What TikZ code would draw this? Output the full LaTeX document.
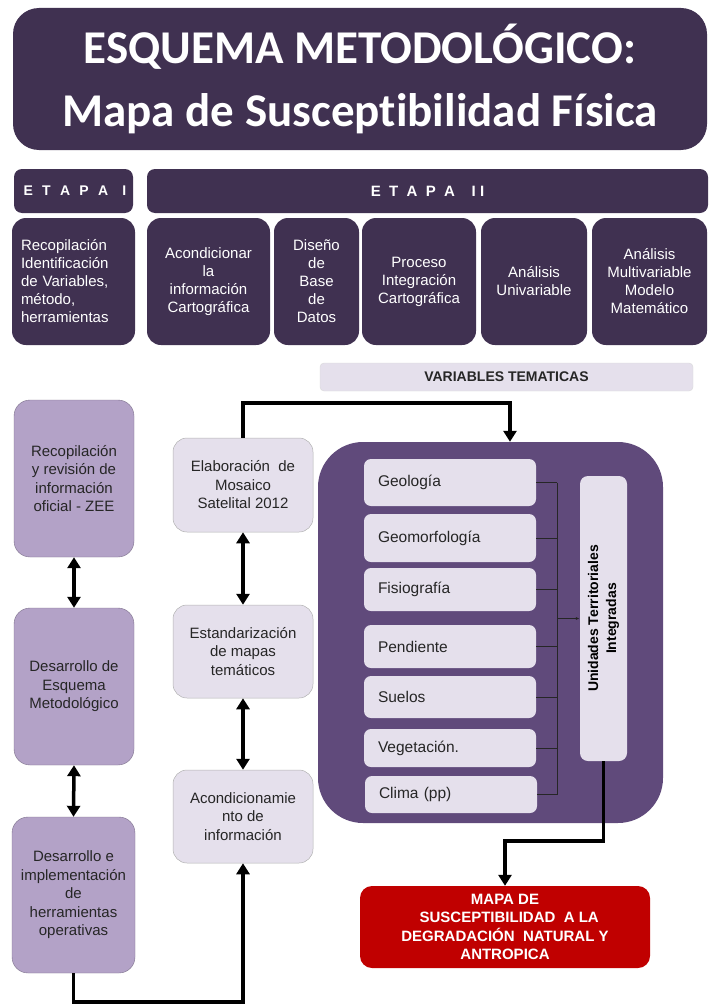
\documentclass[tikz,border=0pt]{standalone}
\usepackage{fontspec}
\setmainfont{Liberation Sans}
\newfontfamily\carlito[Ligatures=NoCommon]{Carlito}
\usetikzlibrary{arrows.meta}

\definecolor{darkpurple}{HTML}{403151}
\definecolor{midpurple}{HTML}{604A7B}
\definecolor{lavender}{HTML}{B3A2C7}
\definecolor{palelilac}{HTML}{E5E0EC}
\definecolor{darkred}{HTML}{C00000}
\definecolor{textgray}{HTML}{262626}

\begin{document}
\begin{tikzpicture}[x=1pt,y=-1pt,
    wh/.style 2 args={minimum width=#1pt, minimum height=#2pt},
    darkbox/.style={fill=darkpurple, text=white, rounded corners=14pt, inner sep=2pt,
      align=center, font=\fontsize{15}{18}\selectfont},
    leftbox/.style={fill=lavender, draw=lavender!70!black, line width=0.4pt, text=textgray,
      rounded corners=16pt, inner sep=2pt, align=center, font=\fontsize{15}{18.5}\selectfont},
    midbox/.style={fill=palelilac, draw=gray!60, line width=0.5pt, text=textgray,
      rounded corners=14pt, inner sep=2pt, align=center, font=\fontsize{15}{18.5}\selectfont},
    varbox/.style={fill=palelilac, text=textgray, rounded corners=7pt, inner sep=0pt,
      text width=144pt, minimum width=172pt, align=left, font=\fontsize{15.5}{18}\selectfont},
    flow/.style={line width=3.5pt, -{Triangle[length=11pt,width=13pt]}},
    dflow/.style={line width=3.5pt, {Triangle[length=11pt,width=13pt]}-{Triangle[length=11pt,width=13pt]}},
    bus/.style={line width=0.9pt, draw=black!85}
  ]
  \useasboundingbox (0,0) rectangle (709,1006);

  % header
  \node[darkbox, wh={694}{142}, rounded corners=26pt,
    font=\carlito\bfseries\fontsize{47}{63}\selectfont] (title) at (360,79)
    {ESQUEMA METODOLÓGICO:\\Mapa de Susceptibilidad Física};

  % stages
  \node[darkbox, wh={119}{44}, rounded corners=8pt, text width=100pt, align=left,
    font=\bfseries\fontsize{14}{16}\selectfont] (etapaI) at (73.5,191) {E~~T~~A~~P~~A~~~I};
  \node[darkbox, wh={561}{44}, rounded corners=8pt, font=\bfseries\fontsize{15}{16}\selectfont]
    (etapaII) at (427.5,191) {E~~T~~A~~P~~A~~~~I~I};

  \node[darkbox, wh={123}{127}, text width=105pt, align=left] (recop) at (73.5,281.5)
    {Recopilación\\Identificación\\de Variables,\\método,\\herramientas};
  \node[darkbox, wh={123}{127}] (acond) at (208.5,281.5)
    {Acondicionar\\la\\información\\Cartográfica};
  \node[darkbox, wh={85}{127}] (diseno) at (316.5,281.5)
    {Diseño\\de\\Base\\de\\Datos};
  \node[darkbox, wh={114}{127}] (proceso) at (419,281.5)
    {Proceso\\Integración\\Cartográfica};
  \node[darkbox, wh={106}{127}] (univar) at (534,281.5)
    {Análisis\\Univariable};
  \node[darkbox, wh={115}{127}] (multivar) at (649.5,281.5)
    {Análisis\\Multivariable\\Modelo\\Matemático};

  % left column
  \node[leftbox, wh={120}{157}] (L1) at (74,478.5)
    {Recopilación\\y revisión de\\información\\oficial - ZEE};
  \node[leftbox, wh={120}{157}] (L2) at (74,686.5)
    {Desarrollo de\\Esquema\\Metodológico};
  \node[leftbox, wh={123}{156}] (L3) at (73.5,895)
    {Desarrollo e\\implementación\\de\\herramientas\\operativas};

  % middle column
  \node[midbox, wh={140}{94}] (M1) at (243,485)
    {Elaboración~ de\\Mosaico\\Satelital 2012};
  \node[midbox, wh={140}{93}] (M2) at (243,651.5)
    {Estandarización\\de mapas\\temáticos};
  \node[midbox, wh={140}{93}] (M3) at (243,816.5)
    {Acondicionamie\\nto de\\información};

  % thematic variables
  \node[fill=palelilac, draw=gray!30, rounded corners=4pt, wh={373}{28},
    font=\bfseries\fontsize{14}{16}\selectfont, text=textgray] (vartem) at (506.5,377)
    {VARIABLES TEMATICAS};
  \node[fill=midpurple, rounded corners=45pt, wh={345}{381}] (frame) at (490.5,632.5) {};

  \node[varbox, minimum height=47pt] (geo)  at (450,482.5) {Geología};
  \node[varbox, minimum height=48pt] (geom) at (450,538)   {Geomorfología};
  \node[varbox, minimum height=43pt] (fis)  at (450,589.5) {Fisiografía};
  \node[varbox, minimum height=43pt] (pen)  at (450,646.5) {Pendiente};
  \node[varbox, minimum height=42pt] (sue)  at (450,697)   {Suelos};
  \node[varbox, minimum height=38pt] (veg)  at (450,748)   {Vegetación.};
  \node[varbox, minimum height=37pt] (cli)  at (451,794.5) {Clima (pp)};

  \node[fill=palelilac, rounded corners=8pt, wh={47}{285}] (uti) at (603.5,618.5) {};
  \node[rotate=90, align=center, font=\bfseries\fontsize{14}{18}\selectfont] (utitext) at (uti)
    {Unidades Territoriales\\Integradas};

  % result
  \node[fill=darkred, text=white, rounded corners=12pt, wh={290}{82}, align=center,
    font=\bfseries\fontsize{15}{18.5}\selectfont] (mapa) at (505,927)
    {MAPA DE\\~~SUSCEPTIBILIDAD~ A LA\\DEGRADACIÓN~ NATURAL Y\\ANTROPICA};

  % connectors
  \coordinate (bus) at (557,0);
  \foreach \v in {geo,geom,fis,pen,sue,veg,cli}
    \draw[bus] (\v.east) -- (\v.east -| bus);
  \draw[bus] (geo.east -| bus) -- (cli.east -| bus);
  \draw[bus, -{Latex[length=4pt,width=3pt]}] (uti.west -| bus) -- (uti.west);

  \coordinate (bendA) at (510,403);
  \coordinate (bendB) at (505,841);
  \draw[flow] (M1.north) |- (bendA) -- (bendA |- frame.north);
  \draw[flow] (uti.south) |- (bendB) -- (mapa.north);
  \draw[flow] (L3.south) -- ++(0,29) -| (M3.south);

  \draw[dflow] (L1.south) -- (L2.north);
  \draw[dflow] (L2.south) -- (L3.north);
  \draw[dflow] (M1.south) -- (M2.north);
  \draw[dflow] (M2.south) -- (M3.north);
\end{tikzpicture}
\end{document}
